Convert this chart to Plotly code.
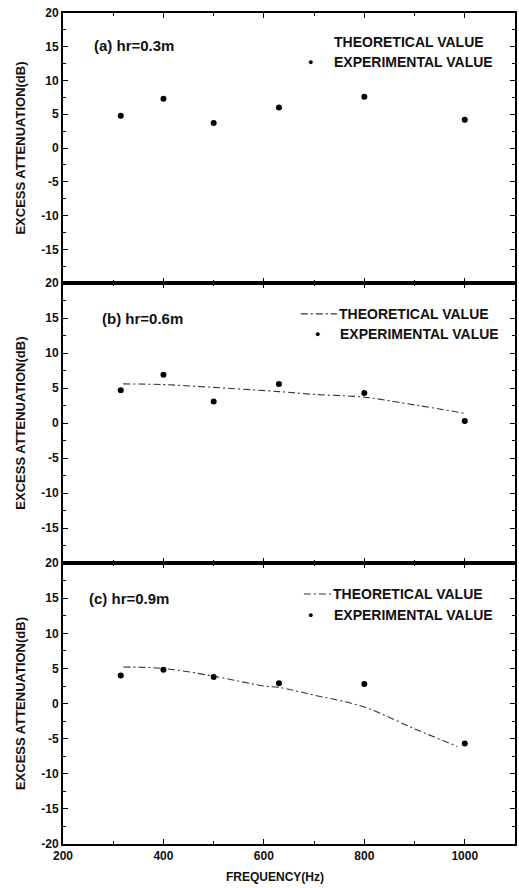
import plotly.graph_objects as go
from plotly.subplots import make_subplots

freq = [315, 400, 500, 630, 800, 1000]
exp_a = [4.8, 7.3, 3.7, 6.0, 7.6, 4.2]
exp_b = [4.7, 6.9, 3.1, 5.6, 4.3, 0.3]
exp_c = [4.0, 4.8, 3.8, 2.9, 2.8, -5.7]

theo_b_x = [320, 400, 500, 630, 700, 800, 900, 1000]
theo_b_y = [5.6, 5.5, 5.1, 4.5, 4.1, 3.7, 2.6, 1.4]
theo_c_x = [320, 400, 500, 600, 630, 700, 800, 900, 985]
theo_c_y = [5.2, 5.0, 3.9, 2.5, 2.3, 1.2, -0.5, -3.6, -6.1]

panel_labels = ["(a) hr=0.3m", "(b) hr=0.6m", "(c) hr=0.9m"]
x_ticks = [200, 400, 600, 800, 1000]
y_ticks = [-20, -15, -10, -5, 0, 5, 10, 15, 20]

FONT = "Liberation Sans, Arial, sans-serif"
INK = "#111111"

fig = make_subplots(rows=3, cols=1, shared_xaxes=True, vertical_spacing=0)

exps = [exp_a, exp_b, exp_c]
theos = [None, (theo_b_x, theo_b_y), (theo_c_x, theo_c_y)]
for i in range(3):
    r = i + 1
    if theos[i] is not None:
        fig.add_trace(go.Scatter(x=theos[i][0], y=theos[i][1], mode="lines",
                                 line=dict(color="#333333", width=1.1, dash="7px,3px,2px,3px"),
                                 showlegend=False, line_shape="spline"), row=r, col=1)
    fig.add_trace(go.Scatter(x=freq, y=exps[i], mode="markers",
                             marker=dict(color="black", size=6),
                             showlegend=False), row=r, col=1)

domains = [[0.675, 1.0], [0.338, 0.675], [0.0, 0.338]]
leg = [
    dict(ty=0.893, ey=0.818, tx=0.595, ex=0.595, mx=0.548, line=None),
    dict(ty=0.89, ey=0.818, tx=0.606, ex=0.608, mx=0.564, line=(0.526, 0.606)),
    dict(ty=0.89, ey=0.815, tx=0.593, ex=0.595, mx=0.548, line=(0.533, 0.593)),
]
lab = [(0.064, 0.88), (0.081, 0.875), (0.053, 0.875)]

for i in range(3):
    r = i + 1
    xa = "x" if r == 1 else f"x{r}"
    ya = "y" if r == 1 else f"y{r}"
    ttext = [("" if (v == -20 and r < 3) else str(v)) for v in y_ticks]
    fig.update_yaxes(row=r, col=1, domain=domains[i], range=[-20, 20],
                     tickvals=y_ticks, ticktext=ttext, ticks="inside", ticklen=5,
                     tickwidth=1.2, tickcolor="black",
                     minor=dict(dtick=2.5, ticks="inside", ticklen=3, tickcolor="black"),
                     showline=True, linecolor="black", linewidth=2, mirror="ticks",
                     showgrid=False, zeroline=False,
                     tickfont=dict(family=FONT, size=12, color=INK, weight="bold"),
                     title=dict(text="EXCESS ATTENUATION(dB)", standoff=13,
                                font=dict(family=FONT, size=13, color=INK, weight="bold")))
    fig.update_xaxes(row=r, col=1, range=[200, 1100], tickvals=x_ticks,
                     ticks="inside", ticklen=5, tickwidth=1.2, tickcolor="black",
                     minor=dict(dtick=100, ticks="inside", ticklen=3, tickcolor="black"),
                     showline=True, linecolor="black", linewidth=2, mirror="ticks",
                     showgrid=False, zeroline=False, showticklabels=(r == 3),
                     tickfont=dict(family=FONT, size=12, color=INK, weight="bold"))
    L = leg[i]
    fig.add_annotation(xref=f"{xa} domain", yref=f"{ya} domain", x=L["tx"], y=L["ty"],
                       xanchor="left", yanchor="middle", showarrow=False,
                       text="THEORETICAL VALUE",
                       font=dict(family=FONT, size=14, color=INK, weight="bold"))
    fig.add_annotation(xref=f"{xa} domain", yref=f"{ya} domain", x=L["ex"], y=L["ey"],
                       xanchor="left", yanchor="middle", showarrow=False,
                       text="EXPERIMENTAL VALUE",
                       font=dict(family=FONT, size=14, color=INK, weight="bold"))
    fig.add_annotation(xref=f"{xa} domain", yref=f"{ya} domain", x=L["mx"], y=L["ey"],
                       xanchor="center", yanchor="middle", showarrow=False,
                       text="●", font=dict(family=FONT, size=9, color="black"))
    if L["line"] is not None:
        fig.add_shape(type="line", xref=f"{xa} domain", yref=f"{ya} domain",
                      x0=L["line"][0], x1=L["line"][1], y0=L["ty"], y1=L["ty"],
                      line=dict(color="#333333", width=1.1, dash="7px,3px,2px,3px"))
    fig.add_annotation(xref=f"{xa} domain", yref=f"{ya} domain", x=lab[i][0], y=lab[i][1],
                       xanchor="left", yanchor="middle", showarrow=False,
                       text=panel_labels[i],
                       font=dict(family=FONT, size=15, color=INK, weight="bold"))

fig.add_annotation(xref="paper", yref="paper", x=0.47, y=-0.040, xanchor="center",
                   yanchor="middle", showarrow=False, text="FREQUENCY(Hz)",
                   font=dict(family=FONT, size=12, color=INK, weight="bold"))

fig.update_layout(width=519, height=888, margin=dict(l=63, r=2, t=13, b=44),
                  paper_bgcolor="white", plot_bgcolor="white", showlegend=False)

fig.write_html("out.html")
